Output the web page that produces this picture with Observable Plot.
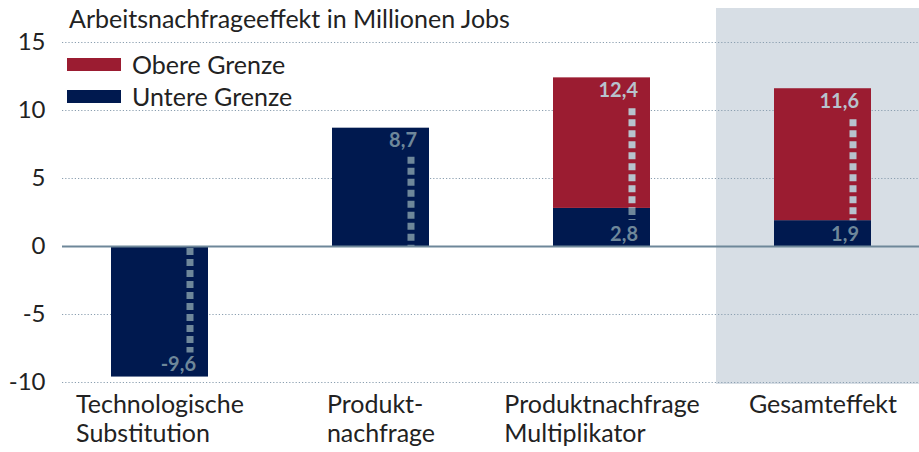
<!DOCTYPE html>
<html><head><meta charset="utf-8">
<script src="https://cdn.jsdelivr.net/npm/d3@7"></script>
<script src="https://cdn.jsdelivr.net/npm/@observablehq/plot@0.6"></script>
<style>
body{margin:0;background:#fff;font-family:Lato,"Open Sans",sans-serif;}
#wrap{position:relative;width:919px;height:452px;}
#wrap svg{position:absolute;left:0;top:0;}
.title{position:absolute;left:69px;top:3px;font-size:25px;line-height:30px;color:#222;white-space:nowrap;}
.leg{position:absolute;left:67px;display:flex;align-items:center;font-size:25px;line-height:30px;color:#222;white-space:nowrap;}
.sw{width:54px;height:13px;margin-right:11px;}
</style></head><body>
<div id="wrap"></div>
<script>
// ---- data ----
const categories = ["Technologische\nSubstitution", "Produkt-\nnachfrage", "Produktnachfrage\nMultiplikator", "Gesamteffekt"];
const lowerValues = [-9.6, 8.7, 2.8, 1.9];   // Untere Grenze
const upperValues = [null, null, 12.4, 11.6]; // Obere Grenze
const seriesNames = ["Obere Grenze", "Untere Grenze"];
const yTicks = [-10, -5, 0, 5, 10, 15];
const titleText = "Arbeitsnachfrageeffekt in Millionen Jobs";
const highlightCategory = "Gesamteffekt";

// ---- styles ----
const RED = "#9b1c31", NAVY = "#00194f", PANEL = "#d7dee5";
const GRID = "#8b9fb0", AXIS = "#6e8799", LIGHT = "#b7c3cd", DARK = "#6e879a";
const FONT = "Lato, 'Open Sans', sans-serif";

const fmt = v => String(v).replace(".", ",");

const lowerRows = categories.map((c, i) => ({cat: c, v: lowerValues[i]}));
const upperRows = categories.map((c, i) => ({cat: c, lo: lowerValues[i], hi: upperValues[i]})).filter(d => d.hi != null);
const singleRows = lowerRows.filter((d, i) => upperValues[i] == null);

const topLabels = [
  ...upperRows.map(d => ({cat: d.cat, y: d.hi, t: fmt(d.hi), c: LIGHT})),
  ...singleRows.filter(d => d.v > 0).map(d => ({cat: d.cat, y: d.v, t: fmt(d.v), c: DARK}))
];
const bottomLabels = [
  ...upperRows.map(d => ({cat: d.cat, y: 0, t: fmt(d.lo), c: DARK})),
  ...singleRows.filter(d => d.v < 0).map(d => ({cat: d.cat, y: d.v, t: fmt(d.v), c: DARK}))
];

const dashStyle = {dx: 30, strokeWidth: 7, strokeDasharray: "7,4"};

const chart = Plot.plot({
  width: 919,
  height: 452,
  marginLeft: 62,
  marginRight: 0,
  marginTop: 42,
  marginBottom: 70,
  style: {fontFamily: FONT, background: "transparent", color: "#222"},
  x: {type: "band", domain: categories, range: [110, 871], paddingInner: 0.562, paddingOuter: 0},
  y: {domain: [-10, 15], range: [382, 42]},
  marks: [
    // highlighted total panel
    Plot.barY([highlightCategory], {x: d => d, y1: yTicks[0], y2: yTicks[yTicks.length - 1], fill: PANEL,
      insetLeft: -58, insetRight: -48, insetTop: -34, insetBottom: -2}),
    // dotted gridlines
    Plot.ruleY(yTicks.filter(t => t !== 0), {stroke: GRID, strokeWidth: 1.2, strokeDasharray: "1.2,2"}),
    // bars
    Plot.barY(lowerRows, {x: "cat", y1: 0, y2: "v", fill: NAVY}),
    Plot.barY(upperRows, {x: "cat", y1: "lo", y2: "hi", fill: RED}),
    // zero line
    Plot.ruleY([0], {stroke: AXIS, strokeWidth: 2.2}),
    // dashed range markers (y1 = upper end, y2 = lower end)
    Plot.ruleX(singleRows.filter(d => d.v > 0), {x: "cat", y1: "v", y2: 0, stroke: DARK, insetTop: 29, ...dashStyle}),
    Plot.ruleX(singleRows.filter(d => d.v < 0), {x: "cat", y1: 0, y2: "v", stroke: DARK, insetTop: 2, insetBottom: 24, ...dashStyle}),
    Plot.ruleX(upperRows, {x: "cat", y1: "lo", y2: 0, stroke: DARK, insetBottom: 26, ...dashStyle}),
    Plot.ruleX(upperRows, {x: "cat", y1: "hi", y2: "lo", stroke: LIGHT, insetTop: 31, ...dashStyle}),
    // value labels
    Plot.text(topLabels, {x: "cat", y: "y", text: "t", fill: "c", textAnchor: "end", lineAnchor: "top",
      dx: 36, dy: 5, fontSize: 20, fontWeight: "bold"}),
    Plot.text(bottomLabels, {x: "cat", y: "y", text: "t", fill: "c", textAnchor: "end", lineAnchor: "bottom",
      dx: 36, dy: -6, fontSize: 20, fontWeight: "bold"}),
    // axes
    Plot.axisY({ticks: yTicks, tickSize: 0, tickPadding: 17, tickFormat: d => String(d), label: null,
      fontSize: 24, fill: "#222"}),
    Plot.axisX({tickSize: 0, tickPadding: 10, label: null, fontSize: 25, lineHeight: 1.16, fill: "#222"})
  ]
});

const wrap = document.getElementById("wrap");
wrap.appendChild(chart);

// left-align the lines of each multi-line category label, keeping the block centred under its bar
chart.querySelectorAll('g[aria-label="x-axis tick label"] text').forEach(el => {
  const w = el.getBBox().width;
  el.setAttribute("text-anchor", "start");
  el.setAttribute("transform", (el.getAttribute("transform") || "") + ` translate(${-w / 2},0)`);
});

const t = document.createElement("div");
t.className = "title";
t.textContent = titleText;
wrap.appendChild(t);

const legColors = [RED, NAVY];
const legTops = [49, 81];
seriesNames.forEach((name, i) => {
  const row = document.createElement("div");
  row.className = "leg";
  row.style.top = legTops[i] + "px";
  const sw = document.createElement("span");
  sw.className = "sw";
  sw.style.background = legColors[i];
  row.appendChild(sw);
  row.appendChild(document.createTextNode(name));
  wrap.appendChild(row);
});
</script>
</body></html>
